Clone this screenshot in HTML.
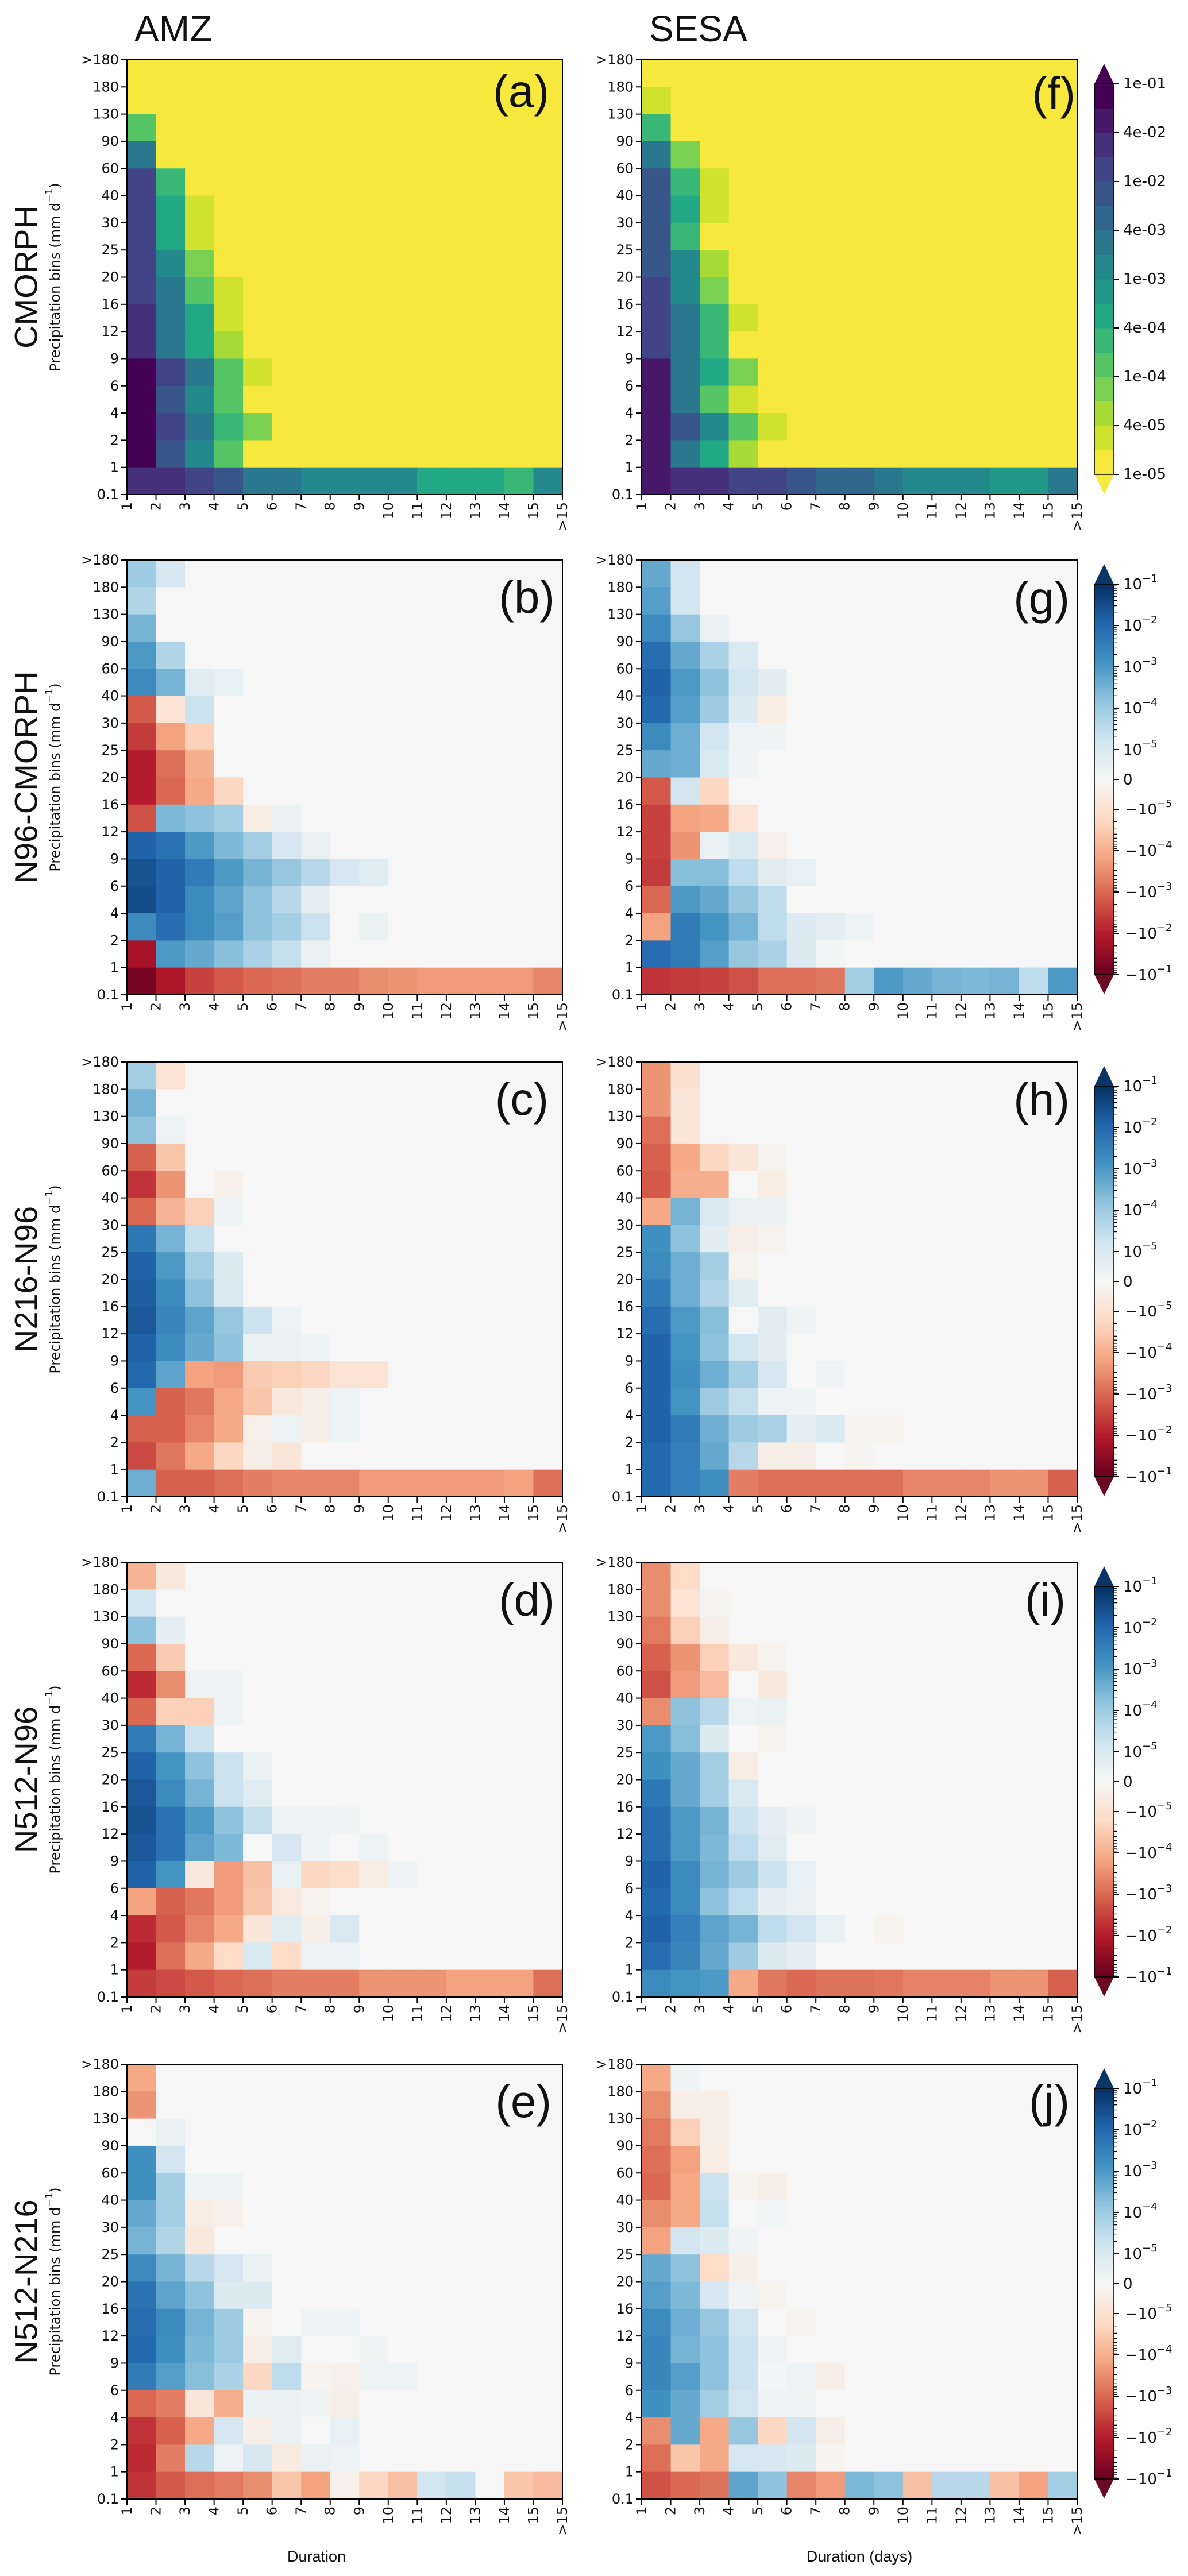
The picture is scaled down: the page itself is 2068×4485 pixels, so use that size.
<!DOCTYPE html>
<html><head><meta charset="utf-8"><title>Precipitation duration-intensity heatmaps</title>
<style>
html,body{margin:0;padding:0;background:#fff;}
#fig{display:block;}
</style></head>
<body>
<svg id="fig" width="2068" height="4485" viewBox="0 0 2068 4485"></svg>
<script>
// ---------------- DATA ----------------
const yTickLabels = [">180","180","130","90","60","40","30","25","20","16","12","9","6","4","2","1","0.1"];
const xTickLabels = ["1","2","3","4","5","6","7","8","9","10","11","12","13","14","15",">15"];
const columnTitles = ["AMZ","SESA"];
const rowTitles = ["CMORPH","N96-CMORPH","N216-N96","N512-N96","N512-N216"];
const panelLetters = ["(a)","(b)","(c)","(d)","(e)","(f)","(g)","(h)","(i)","(j)"];
const viridisTickLabels = ["1e-05","4e-05","1e-04","4e-04","1e-03","4e-03","1e-02","4e-02","1e-01"];
const viridisTickValues = [-5,-4.398,-4,-3.398,-3,-2.398,-2,-1.398,-1];
const divTickExps = ["−1","−2","−3","−4","−5"];

// CMORPH panels: log10 of frequency (rows top ">180" to bottom "0.1", cols duration 1..>15)
const amzCmorph = [
[-6,-6,-6,-6,-6,-6,-6,-6,-6,-6,-6,-6,-6,-6,-6],
[-6,-6,-6,-6,-6,-6,-6,-6,-6,-6,-6,-6,-6,-6,-6],
[-3.76,-6,-6,-6,-6,-6,-6,-6,-6,-6,-6,-6,-6,-6,-6],
[-2.52,-6,-6,-6,-6,-6,-6,-6,-6,-6,-6,-6,-6,-6,-6],
[-1.85,-3.6,-6,-6,-6,-6,-6,-6,-6,-6,-6,-6,-6,-6,-6],
[-1.7,-3.3,-4.5,-6,-6,-6,-6,-6,-6,-6,-6,-6,-6,-6,-6],
[-1.7,-3.3,-4.5,-6,-6,-6,-6,-6,-6,-6,-6,-6,-6,-6,-6],
[-1.7,-2.8,-4.16,-6,-6,-6,-6,-6,-6,-6,-6,-6,-6,-6,-6],
[-1.7,-2.4,-4.0,-4.5,-6,-6,-6,-6,-6,-6,-6,-6,-6,-6,-6],
[-1.4,-2.4,-3.3,-4.5,-6,-6,-6,-6,-6,-6,-6,-6,-6,-6,-6],
[-1.4,-2.4,-3.3,-4.3,-6,-6,-6,-6,-6,-6,-6,-6,-6,-6,-6],
[-1.1,-1.8,-2.6,-3.7,-4.5,-6,-6,-6,-6,-6,-6,-6,-6,-6,-6],
[-1.1,-2.1,-2.9,-4.0,-6,-6,-6,-6,-6,-6,-6,-6,-6,-6,-6],
[-1.1,-1.8,-2.6,-3.6,-4.16,-6,-6,-6,-6,-6,-6,-6,-6,-6,-6],
[-1.1,-2.1,-2.9,-4.0,-6,-6,-6,-6,-6,-6,-6,-6,-6,-6,-6],
[-1.4,-1.6,-1.8,-2.15,-2.4,-2.4,-2.7,-2.7,-2.95,-2.95,-3.25,-3.25,-3.25,-3.65,-2.7]
];
const sesaCmorph = [
[-6,-6,-6,-6,-6,-6,-6,-6,-6,-6,-6,-6,-6,-6,-6],
[-4.5,-6,-6,-6,-6,-6,-6,-6,-6,-6,-6,-6,-6,-6,-6],
[-3.5,-6,-6,-6,-6,-6,-6,-6,-6,-6,-6,-6,-6,-6,-6],
[-2.6,-4.16,-6,-6,-6,-6,-6,-6,-6,-6,-6,-6,-6,-6,-6],
[-2.1,-3.6,-4.5,-6,-6,-6,-6,-6,-6,-6,-6,-6,-6,-6,-6],
[-2.1,-3.3,-4.5,-6,-6,-6,-6,-6,-6,-6,-6,-6,-6,-6,-6],
[-2.1,-3.6,-6,-6,-6,-6,-6,-6,-6,-6,-6,-6,-6,-6,-6],
[-2.1,-2.9,-4.3,-6,-6,-6,-6,-6,-6,-6,-6,-6,-6,-6,-6],
[-1.75,-2.7,-4.1,-6,-6,-6,-6,-6,-6,-6,-6,-6,-6,-6,-6],
[-1.75,-2.4,-3.6,-4.5,-6,-6,-6,-6,-6,-6,-6,-6,-6,-6,-6],
[-1.75,-2.4,-3.6,-6,-6,-6,-6,-6,-6,-6,-6,-6,-6,-6,-6],
[-1.3,-2.4,-3.3,-4.1,-6,-6,-6,-6,-6,-6,-6,-6,-6,-6,-6],
[-1.3,-2.6,-3.7,-4.5,-6,-6,-6,-6,-6,-6,-6,-6,-6,-6,-6],
[-1.3,-2.1,-2.8,-3.9,-4.5,-6,-6,-6,-6,-6,-6,-6,-6,-6,-6],
[-1.3,-2.4,-3.3,-4.3,-6,-6,-6,-6,-6,-6,-6,-6,-6,-6,-6],
[-1.3,-1.6,-1.6,-1.95,-1.95,-2.15,-2.35,-2.35,-2.5,-2.9,-2.9,-2.9,-3.1,-3.1,-2.45]
];
// Difference panels: signed symlog decades (L: value = sign*10^(|L|-6); |L|<=1 linear region)
const amzN96Cmorph = [
[2.0,1.1,0,0,0,0,0,0,0,0,0,0,0,0,0],
[1.7,0,0,0,0,0,0,0,0,0,0,0,0,0,0],
[2.5,0,0,0,0,0,0,0,0,0,0,0,0,0,0],
[3.0,1.7,0,0,0,0,0,0,0,0,0,0,0,0,0],
[3.3,2.5,0.8,0.5,0,0,0,0,0,0,0,0,0,0,0],
[-3.2,-0.9,1.3,0,0,0,0,0,0,0,0,0,0,0,0],
[-3.6,-2.2,-1.4,0,0,0,0,0,0,0,0,0,0,0,0],
[-4.0,-2.9,-2.0,0,0,0,0,0,0,0,0,0,0,0,0],
[-4.0,-3.0,-2.1,-1.3,0,0,0,0,0,0,0,0,0,0,0],
[-3.3,2.4,2.2,1.9,-0.5,0.4,0,0,0,0,0,0,0,0,0],
[4.1,3.8,3.0,2.4,1.9,1.1,0.4,0,0,0,0,0,0,0,0],
[4.4,4.1,3.6,3.0,2.5,2.1,1.6,1.1,0.8,0,0,0,0,0,0],
[4.5,4.1,3.3,2.8,2.2,1.6,0.6,0,0,0,0,0,0,0,0],
[3.3,3.9,3.3,2.9,2.2,1.9,1.3,0,0.4,0,0,0,0,0,0],
[-4.2,3.0,2.7,2.3,1.8,1.4,0.4,0,0,0,0,0,0,0,0],
[-4.8,-4.1,-3.5,-3.2,-3.0,-2.9,-2.7,-2.7,-2.5,-2.4,-2.3,-2.3,-2.3,-2.3,-2.6]
];
const sesaN96Cmorph = [
[2.7,1.2,0,0,0,0,0,0,0,0,0,0,0,0,0],
[2.9,1.2,0,0,0,0,0,0,0,0,0,0,0,0,0],
[3.3,2.1,0.4,0,0,0,0,0,0,0,0,0,0,0,0],
[3.9,2.7,1.8,1.0,0,0,0,0,0,0,0,0,0,0,0],
[4.1,3.0,2.2,1.2,0.7,0,0,0,0,0,0,0,0,0,0],
[4.0,2.9,2.0,0.9,-0.5,0,0,0,0,0,0,0,0,0,0],
[3.3,2.6,1.2,0.3,0.2,0,0,0,0,0,0,0,0,0,0],
[2.7,2.6,1.0,0.2,0,0,0,0,0,0,0,0,0,0,0],
[-3.2,1.2,-1.3,0,0,0,0,0,0,0,0,0,0,0,0],
[-3.5,-2.2,-2.1,-0.9,0,0,0,0,0,0,0,0,0,0,0],
[-3.5,-2.4,0.4,1.0,-0.3,0,0,0,0,0,0,0,0,0,0],
[-3.6,2.3,2.3,1.5,0.7,0.5,0,0,0,0,0,0,0,0,0],
[-3.0,3.0,2.7,2.1,1.5,0,0,0,0,0,0,0,0,0,0],
[-2.2,3.6,3.1,2.5,1.5,0.9,0.6,0.3,0,0,0,0,0,0,0],
[3.9,3.6,2.9,2.1,1.8,0.9,0.1,0,0,0,0,0,0,0,0],
[-3.7,-3.6,-3.5,-3.3,-2.9,-2.9,-2.8,1.9,3.0,2.7,2.5,2.4,2.5,1.5,3.0]
];
const amzN216N96 = [
[1.9,-0.9,0,0,0,0,0,0,0,0,0,0,0,0,0],
[2.5,0,0,0,0,0,0,0,0,0,0,0,0,0,0],
[2.2,0.3,0,0,0,0,0,0,0,0,0,0,0,0,0],
[-3.1,-1.6,0,0,0,0,0,0,0,0,0,0,0,0,0],
[-3.7,-2.4,0,-0.3,0,0,0,0,0,0,0,0,0,0,0],
[-3.0,-1.9,-1.4,0.3,0,0,0,0,0,0,0,0,0,0,0],
[3.7,2.5,1.4,0,0,0,0,0,0,0,0,0,0,0,0],
[4.1,3.0,1.9,0.9,0,0,0,0,0,0,0,0,0,0,0],
[4.2,3.3,2.2,1.0,0,0,0,0,0,0,0,0,0,0,0],
[4.3,3.4,2.8,2.1,1.3,0.3,0,0,0,0,0,0,0,0,0],
[4.1,3.3,2.7,2.2,0.4,0.4,0.3,0,0,0,0,0,0,0,0],
[4.0,2.8,-2.2,-2.3,-1.5,-1.4,-1.3,-0.9,-0.9,0,0,0,0,0,0],
[3.1,-3.1,-2.8,-2.1,-1.6,-0.7,-0.4,0.3,0,0,0,0,0,0,0],
[-3.1,-3.1,-2.6,-2.1,-0.3,0.3,-0.4,0.3,0,0,0,0,0,0,0],
[-3.4,-2.8,-2.1,-1.3,-0.4,-0.8,0,0,0,0,0,0,0,0,0],
[2.6,-3.1,-3.1,-2.9,-2.7,-2.6,-2.6,-2.6,-2.3,-2.3,-2.3,-2.3,-2.3,-2.2,-2.9]
];
const sesaN216N96 = [
[-2.4,-1.0,0,0,0,0,0,0,0,0,0,0,0,0,0],
[-2.4,-0.8,0,0,0,0,0,0,0,0,0,0,0,0,0],
[-2.9,-0.8,0,0,0,0,0,0,0,0,0,0,0,0,0],
[-3.1,-2.1,-1.3,-0.8,-0.2,0,0,0,0,0,0,0,0,0,0],
[-3.2,-2.0,-2.0,0,-0.5,0,0,0,0,0,0,0,0,0,0],
[-2.1,2.5,1.0,0.4,0.4,0,0,0,0,0,0,0,0,0,0],
[3.2,2.2,0.7,-0.4,-0.2,0,0,0,0,0,0,0,0,0,0],
[3.3,2.6,1.9,-0.2,0,0,0,0,0,0,0,0,0,0,0],
[3.6,2.6,1.7,0.8,0,0,0,0,0,0,0,0,0,0,0],
[3.9,3.0,2.3,0,0.7,0.2,0,0,0,0,0,0,0,0,0],
[4.1,3.1,2.2,1.2,0.7,0,0,0,0,0,0,0,0,0,0],
[4.1,3.2,2.6,1.9,1.1,0,0.2,0,0,0,0,0,0,0,0],
[4.1,3.1,2.0,1.4,0.3,0.2,0,0,0,0,0,0,0,0,0],
[4.1,3.6,2.6,2.0,1.8,0.6,1.0,-0.2,-0.2,0,0,0,0,0,0],
[4.0,3.5,2.7,1.6,-0.4,-0.4,0,-0.1,0,0,0,0,0,0,0],
[4.0,3.5,3.2,-2.7,-2.9,-2.9,-2.9,-2.9,-2.9,-2.6,-2.6,-2.6,-2.4,-2.4,-3.1]
];
const amzN512N96 = [
[-1.9,-0.7,0,0,0,0,0,0,0,0,0,0,0,0,0],
[1.2,0,0,0,0,0,0,0,0,0,0,0,0,0,0],
[2.2,0.6,0,0,0,0,0,0,0,0,0,0,0,0,0],
[-3.0,-1.5,0,0,0,0,0,0,0,0,0,0,0,0,0],
[-3.8,-2.5,0.3,0.3,0,0,0,0,0,0,0,0,0,0,0],
[-3.0,-1.4,-1.4,0.3,0,0,0,0,0,0,0,0,0,0,0],
[3.6,2.5,1.3,0,0,0,0,0,0,0,0,0,0,0,0],
[4.1,3.1,2.2,1.3,0.4,0,0,0,0,0,0,0,0,0,0],
[4.3,3.3,2.5,1.3,0.8,0,0,0,0,0,0,0,0,0,0],
[4.4,3.8,3.0,2.2,1.4,0.3,0.3,0.2,0,0,0,0,0,0,0],
[4.3,3.8,2.8,2.4,0,1.1,0.3,0,0.3,0,0,0,0,0,0],
[4.1,3.1,-0.7,-2.3,-1.7,0.5,-1.3,-1.1,-0.5,0.3,0,0,0,0,0],
[-2.2,-3.1,-2.8,-2.3,-1.6,-0.6,-0.2,0,0,0,0,0,0,0,0],
[-3.8,-3.2,-2.6,-2.1,-0.8,0.8,-0.4,1.0,0,0,0,0,0,0,0],
[-4.0,-2.9,-2.1,-1.2,1.0,-1.2,0.3,0.3,0,0,0,0,0,0,0],
[-3.6,-3.4,-3.2,-3.0,-2.9,-2.7,-2.7,-2.7,-2.4,-2.4,-2.4,-2.2,-2.2,-2.2,-2.9]
];
const sesaN512N96 = [
[-2.5,-1.2,0,0,0,0,0,0,0,0,0,0,0,0,0],
[-2.5,-0.9,-0.1,0,0,0,0,0,0,0,0,0,0,0,0],
[-2.75,-1.4,-0.4,0,0,0,0,0,0,0,0,0,0,0,0],
[-3.1,-2.4,-1.4,-0.7,-0.2,0,0,0,0,0,0,0,0,0,0],
[-3.3,-2.3,-1.8,0,-0.7,0,0,0,0,0,0,0,0,0,0],
[-2.5,2.2,1.6,0.3,0.4,0,0,0,0,0,0,0,0,0,0],
[3.0,2.3,0.9,0,-0.2,0,0,0,0,0,0,0,0,0,0],
[3.2,2.7,1.9,-0.5,0,0,0,0,0,0,0,0,0,0,0],
[3.7,2.7,1.9,1.0,0,0,0,0,0,0,0,0,0,0,0],
[3.9,3.0,2.5,1.3,0.6,0.2,0,0,0,0,0,0,0,0,0],
[3.9,3.0,2.4,1.5,0.8,0,0,0,0,0,0,0,0,0,0],
[4.1,3.3,2.5,2.0,1.3,0.5,0,0,0,0,0,0,0,0,0],
[4.0,3.3,2.2,1.5,0.6,0.4,0,0,0,0,0,0,0,0,0],
[4.1,3.5,2.8,2.5,1.5,1.2,0.5,0,-0.2,0,0,0,0,0,0],
[3.9,3.4,2.7,2.0,0.9,0.6,0,0,0,0,0,0,0,0,0],
[3.3,3.1,3.0,-2.1,-2.8,-3.0,-2.85,-2.85,-2.8,-2.65,-2.65,-2.65,-2.4,-2.4,-3.1]
];
const amzN512N216 = [
[-2.1,0,0,0,0,0,0,0,0,0,0,0,0,0,0],
[-2.4,0,0,0,0,0,0,0,0,0,0,0,0,0,0],
[0,0.4,0,0,0,0,0,0,0,0,0,0,0,0,0],
[3.2,1.2,0,0,0,0,0,0,0,0,0,0,0,0,0],
[3.2,1.9,0.3,0.3,0,0,0,0,0,0,0,0,0,0,0],
[2.7,1.9,-0.5,-0.3,0,0,0,0,0,0,0,0,0,0,0],
[2.5,1.7,-0.7,0,0,0,0,0,0,0,0,0,0,0,0],
[3.3,2.5,1.6,1.1,0.4,0,0,0,0,0,0,0,0,0,0],
[3.8,2.8,2.2,0.9,0.9,0,0,0,0,0,0,0,0,0,0],
[3.9,3.3,2.5,2.0,-0.2,0,0.3,0.3,0,0,0,0,0,0,0],
[4.0,3.2,2.4,2.0,-0.4,0.8,0,0,0.2,0,0,0,0,0,0],
[3.6,2.9,2.3,1.8,-1.3,1.5,-0.2,-0.3,0.3,0.3,0,0,0,0,0],
[-3.0,-2.7,-0.8,-2.0,0.4,0.4,0.2,-0.4,0,0,0,0,0,0,0],
[-3.7,-3.1,-2.1,1.1,-0.4,0.4,0,0.5,0,0,0,0,0,0,0],
[-3.8,-2.7,1.6,0.3,1.1,-0.6,0.4,0.3,0,0,0,0,0,0,0],
[-3.7,-3.2,-2.9,-2.75,-2.5,-1.6,-2.2,-0.3,-1.3,-1.7,1.2,1.4,0,-1.6,-1.8]
];
const sesaN512N216 = [
[-2.1,0.2,0,0,0,0,0,0,0,0,0,0,0,0,0],
[-2.5,-0.4,-0.4,0,0,0,0,0,0,0,0,0,0,0,0],
[-2.75,-1.4,-0.4,0,0,0,0,0,0,0,0,0,0,0,0],
[-2.9,-2.2,-0.5,0,0,0,0,0,0,0,0,0,0,0,0],
[-3.0,-2.1,1.3,-0.2,-0.4,0,0,0,0,0,0,0,0,0,0],
[-2.5,-2.1,1.4,0,0.1,0,0,0,0,0,0,0,0,0,0],
[-2.2,1.2,0.9,0.2,0,0,0,0,0,0,0,0,0,0,0],
[2.7,2.2,-1.2,-0.4,0,0,0,0,0,0,0,0,0,0,0],
[2.9,2.4,1.1,0.2,-0.2,0,0,0,0,0,0,0,0,0,0],
[3.3,2.6,2.1,1.2,0,-0.2,0,0,0,0,0,0,0,0,0],
[3.4,2.5,2.2,1.3,0.3,0,0,0,0,0,0,0,0,0,0],
[3.4,2.9,2.2,1.3,0.1,0.3,-0.4,0,0,0,0,0,0,0,0],
[3.2,2.7,1.9,1.2,0.3,0.2,0,0,0,0,0,0,0,0,0],
[-2.5,2.7,-2.1,2.1,-1.3,1.2,-0.4,0,0,0,0,0,0,0,0],
[-2.9,-1.6,-2.1,1.1,1.1,0.9,-0.1,0,0,0,0,0,0,0,0],
[-3.3,-3.0,-2.85,2.8,2.2,-2.6,-2.3,2.45,2.2,-1.7,1.6,1.6,-1.7,-2.2,1.9]
];

// ---------------- LAYOUT ----------------
const NS = "http://www.w3.org/2000/svg";
const svg = document.getElementById("fig");
const COLX = [221, 1117];
const PW = 758, PH = 757;
const TOPS = [104, 975, 1849, 2720, 3594];
const NCOL = 15, NROW = 16;
const CBX = 1905, CBW = 34;
const letterDY = [[82,92,92,93,92],[86,94,93,93,92]];
const letterRX = [[956,966,955,966,960],[1872,1862,1862,1855,1862]];

const VIR = ["#440154","#482475","#414487","#355f8d","#2a788e","#21918c","#22a884","#44bf70","#7ad151","#bddf26","#f6e83c"];
const RDBU = ["#67001f","#b2182b","#d6604d","#f4a582","#fddbc7","#f5f6f5","#d1e5f0","#92c5de","#4393c3","#2166ac","#053061"];

function hex2rgb(h){return [parseInt(h.substr(1,2),16),parseInt(h.substr(3,2),16),parseInt(h.substr(5,2),16)];}
function interp(stops,t){
  t=Math.max(0,Math.min(1,t));
  const s=t*(stops.length-1); const i=Math.min(stops.length-2,Math.floor(s)); const f=s-i;
  const a=hex2rgb(stops[i]), b=hex2rgb(stops[i+1]);
  return "rgb("+Math.round(a[0]+(b[0]-a[0])*f)+","+Math.round(a[1]+(b[1]-a[1])*f)+","+Math.round(a[2]+(b[2]-a[2])*f)+")";
}
// symlog offset (px from zero on a 680px bar) for a decade level L
function symOffset(L){const a=Math.abs(L); const px=a<=1? a*52 : 52+(a-1)*72; return Math.sign(L)*Math.min(340,px);}
function divColor(L){return interp(RDBU, 0.5+symOffset(L)/680);}
function cmorphFrac(v){
  const t=viridisTickValues;
  if(v<=t[0]) return -0.01;
  if(v>=t[8]) return 1;
  let k=0; while(k<7 && v>t[k+1]) k++;
  return (k+(v-t[k])/(t[k+1]-t[k]))/8;
}
function cmorphColor(v){
  const f=cmorphFrac(v);
  const band=f<0?0:Math.min(15,Math.floor(f*16));
  return interp(VIR, 1-band/15);
}
function xScale(x0,i){return x0+i*PW/NCOL;}
function yScale(top,j){return top+j*PH/NROW;}

function mk(tag,attrs,parent){
  const el=document.createElementNS(NS,tag);
  for(const k in attrs) el.setAttribute(k,attrs[k]);
  (parent||svg).appendChild(el);
  return el;
}

const panels = [
  [amzCmorph, amzN96Cmorph, amzN216N96, amzN512N96, amzN512N216],
  [sesaCmorph, sesaN96Cmorph, sesaN216N96, sesaN512N96, sesaN512N216]
];

// white background
const bg = mk("rect",{x:0,y:0,width:2068,height:4485,fill:"#ffffff"});



// column titles
for(let c=0;c<2;c++){
  const t = mk("text",{x:[234,1130][c],y:72,"font-family":"Liberation Sans, sans-serif","font-size":64,fill:"#111"});
  
  
  t.textContent=columnTitles[c];
}

for(let c=0;c<2;c++){
  for(let r=0;r<5;r++){
    const data=panels[c][r];
    const x0=COLX[c], top=TOPS[r];
    const isCm = (r===0);
    const g = mk("g",{});
    
    
    // cells
    for(let j=0;j<NROW;j++){
      for(let i=0;i<NCOL;i++){
        const v=data[j][i];
        const xa=xScale(x0,i), xb=xScale(x0,i+1), ya=yScale(top,j), yb=yScale(top,j+1);
        const cell = mk("rect",{x:xa.toFixed(2),y:ya.toFixed(2),width:(xb-xa+0.4).toFixed(2),height:(yb-ya+0.4).toFixed(2),fill:isCm?cmorphColor(v):divColor(v)},g);
        
        
      }
    }
    // frame
    const fr = mk("rect",{x:x0,y:top,width:PW,height:PH,fill:"none",stroke:"#000","stroke-width":2},g);
    
    
    // y ticks
    for(let j=0;j<yTickLabels.length;j++){
      const y=yScale(top,j);
      const tk = mk("line",{x1:x0-10,x2:x0,y1:y,y2:y,stroke:"#000","stroke-width":2},g);
      
      
      const tl = mk("text",{x:x0-14,y:y,"text-anchor":"end","dominant-baseline":"central","font-family":"DejaVu Sans, sans-serif","font-size":24,fill:"#111"},g);
      
      
      tl.textContent=yTickLabels[j];
    }
    // x ticks
    for(let i=0;i<xTickLabels.length;i++){
      const x=xScale(x0,i);
      const tk = mk("line",{x1:x,x2:x,y1:top+PH,y2:top+PH+10,stroke:"#000","stroke-width":2},g);
      
      
      const tl = mk("text",{transform:"translate("+x.toFixed(1)+","+(top+PH+13)+") rotate(-90)","text-anchor":"end","dominant-baseline":"central","font-family":"DejaVu Sans, sans-serif","font-size":24,fill:"#111"},g);
      
      
      tl.textContent=xTickLabels[i];
    }
    // panel letter
    const pl = mk("text",{x:letterRX[c][r],y:top+letterDY[c][r],"text-anchor":"end","font-family":"Liberation Sans, sans-serif","font-size":80,fill:"#111"},g);
    
    
    pl.textContent=panelLetters[c*5+r];

    if(c===0){
      const rl = mk("text",{transform:"translate(45,"+(top+PH/2)+") rotate(-90)","text-anchor":"middle","dominant-baseline":"central","font-family":"Liberation Sans, sans-serif","font-size":56,fill:"#111"});
      
      
      rl.textContent=rowTitles[r];
      const yl = mk("text",{transform:"translate(96,"+(top+PH/2)+") rotate(-90)","text-anchor":"middle","dominant-baseline":"central","font-family":"DejaVu Sans, sans-serif","font-size":24,fill:"#111"});
      
      
      yl.textContent="Precipitation bins (mm d";
      const sup = mk("tspan",{dy:-10,"font-size":17},yl);
      
      
      sup.textContent="−1";
      const cl = mk("tspan",{dy:10},yl);
      
      
      cl.textContent=")";
    }
  }
}

// x axis titles
const xt1 = mk("text",{x:551,y:4460,"text-anchor":"middle","font-family":"Liberation Sans, sans-serif","font-size":27,fill:"#111"});


xt1.textContent="Duration";
const xt2 = mk("text",{x:1496,y:4460,"text-anchor":"middle","font-family":"Liberation Sans, sans-serif","font-size":27,fill:"#111"});


xt2.textContent="Duration (days)";

// ---------------- COLORBARS ----------------
for(let r=0;r<5;r++){
  const top=TOPS[r];
  const rt=top+42, rb=top+722, H=rb-rt;
  const cb = mk("g",{});
  
  
  const cx=CBX+CBW/2;
  if(r===0){
    const tri1 = mk("polygon",{points:CBX+","+rt+" "+(CBX+CBW)+","+rt+" "+cx+","+(top+7),fill:interp(VIR,0)},cb);
    
    
    const tri2 = mk("polygon",{points:CBX+","+rb+" "+(CBX+CBW)+","+rb+" "+cx+","+(top+756),fill:interp(VIR,1)},cb);
    
    
    for(let b=0;b<16;b++){
      const y=rb-(b+1)*H/16;
      const band = mk("rect",{x:CBX,y:y.toFixed(2),width:CBW,height:(H/16+0.5).toFixed(2),fill:interp(VIR,1-b/15)},cb);
      
      
    }
    for(let k=0;k<viridisTickLabels.length;k++){
      const y=rb-k*H/8;
      const tk = mk("line",{x1:CBX+CBW,x2:CBX+CBW+9,y1:y,y2:y,stroke:"#000","stroke-width":2},cb);
      
      
      const tl = mk("text",{x:1955,y:y,"dominant-baseline":"central","font-family":"DejaVu Sans, sans-serif","font-size":26,fill:"#111"},cb);
      
      
      tl.textContent=viridisTickLabels[k];
    }
  } else {
    const mid=(rt+rb)/2;
    const tri1 = mk("polygon",{points:CBX+","+rt+" "+(CBX+CBW)+","+rt+" "+cx+","+(top+7),fill:"#0a3566"},cb);
    
    
    const tri2 = mk("polygon",{points:CBX+","+rb+" "+(CBX+CBW)+","+rb+" "+cx+","+(top+756),fill:"#6a0a22"},cb);
    
    
    for(let p=0;p<H;p+=4){
      const band = mk("rect",{x:CBX,y:rt+p,width:CBW,height:4.5,fill:interp(RDBU,1-(p+2)/H)},cb);
      
      
    }
    // minor ticks
    for(let e=-5;e<=-2;e++){
      for(let m=2;m<=9;m++){
        const L=Math.log10(m*Math.pow(10,e))+6;
        for(const s of [1,-1]){
          const y=mid-s*symOffset(L)*H/680;
          const mt = mk("line",{x1:CBX+CBW,x2:CBX+CBW+5,y1:y.toFixed(1),y2:y.toFixed(1),stroke:"#000","stroke-width":1.3},cb);
          
          
        }
      }
    }
    const majors=[5,4,3,2,1,0,-1,-2,-3,-4,-5];
    for(const L of majors){
      const y=mid-symOffset(L)*H/680;
      const tk = mk("line",{x1:CBX+CBW,x2:CBX+CBW+9,y1:y,y2:y,stroke:"#000","stroke-width":2},cb);
      
      
      const tl = mk("text",{x:L<0?1959:1955,y:y+9,"font-family":"DejaVu Sans, sans-serif","font-size":26,fill:"#111"},cb);
      
      
      if(L===0){ tl.textContent="0"; continue; }
      tl.textContent=(L<0?"−":"")+"10";
      const sp = mk("tspan",{dy:-13,"font-size":18},tl);
      
      
      sp.textContent=divTickExps[5-Math.abs(L)];
    }
  }
  const out = mk("rect",{x:CBX,y:rt,width:CBW,height:H,fill:"none",stroke:"#000","stroke-width":1.5},cb);
  
  
}
</script>
</body></html>
